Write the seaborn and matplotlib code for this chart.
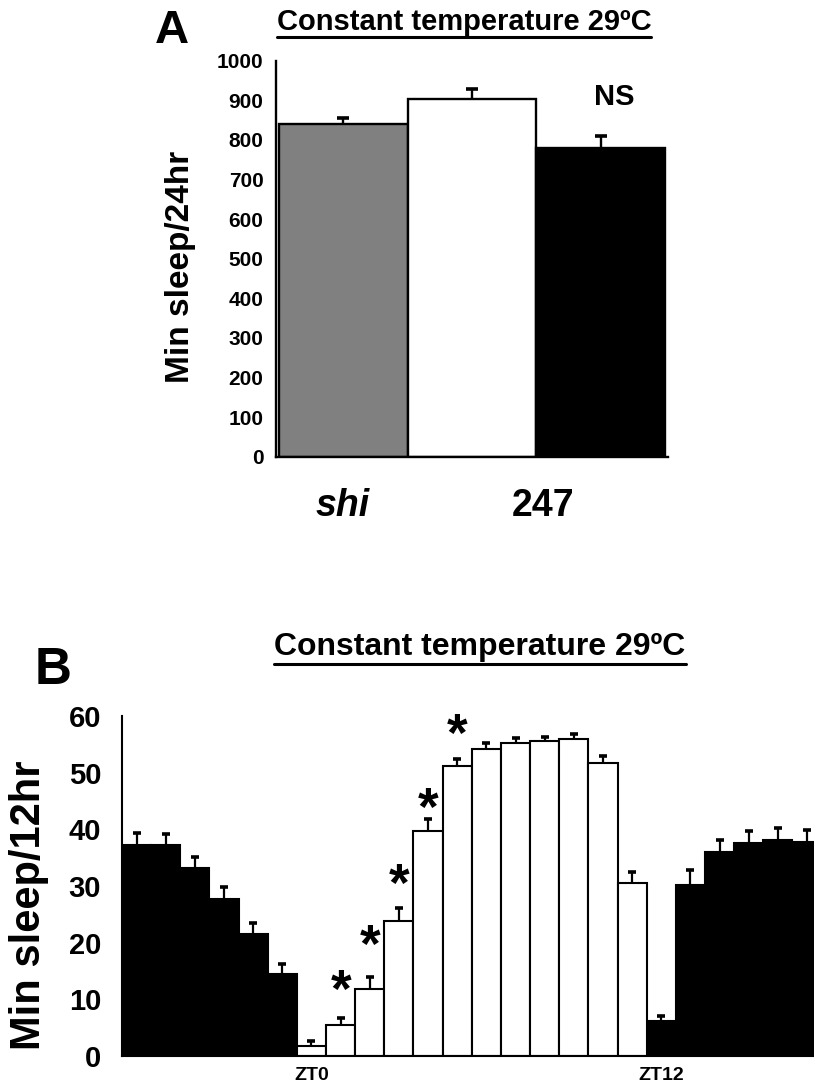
import matplotlib
matplotlib.use("Agg")
import matplotlib.pyplot as plt
import seaborn as sns
import numpy as np
import pandas as pd
from matplotlib.lines import Line2D

# ---------------- Panel A data ----------------
genotypes = ["shi/+", "247/+", "247>shi"]
sleep_24h = [839, 903, 779]
sleep_24h_sem = [17, 25, 32]
colors_a = ["#808080", "#ffffff", "#000000"]
group_labels = ["shi", "247"]
group_label_pos = [0.0, 1.55]
a_yticks = [0, 100, 200, 300, 400, 500, 600, 700, 800, 900, 1000]
ns_label = "NS"

# ---------------- Panel B data ----------------
hours = list(range(24))
phase = ["dark"] * 6 + ["light"] * 12 + ["dark"] * 6
sleep_hourly = [37.2, 37.2, 33.1, 27.7, 21.5, 14.5,
                1.8, 5.4, 11.9, 23.9, 39.7, 51.1,
                54.2, 55.3, 55.6, 55.9, 51.7, 30.5,
                6.1, 30.1, 36.0, 37.6, 38.1, 37.8]
sleep_hourly_sem = [2.2, 2.0, 2.1, 2.1, 1.9, 1.7,
                    0.8, 1.3, 2.0, 2.3, 2.1, 1.3,
                    1.1, 0.8, 0.7, 0.9, 1.2, 2.0,
                    1.0, 2.7, 2.2, 2.1, 2.2, 2.1]
star_hours = [7, 8, 9, 10, 11]
star_y = [12.8, 20.8, 31.6, 44.9, 58.1]
b_yticks = [0, 10, 20, 30, 40, 50, 60]
zt_ticks = [6, 18]
zt_labels = ["ZT0", "ZT12"]
phase_colors = {"dark": "#000000", "light": "#ffffff"}

title_text = "Constant temperature 29ºC"

sns.set_style("white")
plt.rcParams["font.family"] = ["Liberation Sans", "DejaVu Sans"]
plt.rcParams["font.weight"] = "bold"
for k in ["text.color", "axes.labelcolor", "xtick.color", "ytick.color", "axes.edgecolor"]:
    plt.rcParams[k] = "black"

W, H = 814, 1089
fig = plt.figure(figsize=(W / 100, H / 100), dpi=100)


def fx(px):
    return px / W


def fy(py):
    return 1 - py / H


def upper_errorbars(ax, means, sems, lw, cap_ms, cap_mew):
    x = np.arange(len(means))
    top = np.asarray(means) + np.asarray(sems)
    ax.vlines(x, means, top, colors="black", linewidth=lw, zorder=5)
    ax.plot(x, top, ls="none", marker="_", markersize=cap_ms,
            markeredgewidth=cap_mew, color="black", zorder=5)


# ---------------- Panel A ----------------
axA = fig.add_axes([fx(276), fy(456.7), fx(668) - fx(276), fy(60.7) - fy(456.7)])
dfA = pd.DataFrame({"genotype": genotypes, "sleep": sleep_24h})
sns.barplot(data=dfA, x="genotype", y="sleep", hue="genotype",
            palette=dict(zip(genotypes, colors_a)), width=1.0,
            edgecolor="black", linewidth=1.7, errorbar=None,
            legend=False, ax=axA)
upper_errorbars(axA, sleep_24h, sleep_24h_sem, lw=1.7, cap_ms=9, cap_mew=2.6)
axA.set_ylim(0, 1000)
axA.set_xlim(-0.52, 2.52)
axA.set_yticks(a_yticks)
axA.set_yticklabels([str(v) for v in a_yticks], fontsize=15, fontweight="bold")
axA.set_xticks([])
axA.set_xlabel("")
axA.set_ylabel("")
for s in ["top", "right"]:
    axA.spines[s].set_visible(False)
for s in ["left", "bottom"]:
    axA.spines[s].set_linewidth(1.7)
    axA.spines[s].set_color("black")
axA.tick_params(axis="y", direction="out", length=5, width=1.7, pad=4, colors="black")
axA.text(2.1, 908, ns_label, ha="center", va="center", fontsize=21, fontweight="bold")
axA.text(group_label_pos[0], -125, group_labels[0], ha="center", va="center",
         fontsize=27, fontweight="bold", style="italic")
axA.text(group_label_pos[1], -125, group_labels[1], ha="center", va="center",
         fontsize=27, fontweight="bold")

fig.text(fx(180), fy(267), "Min sleep/24hr", rotation=90, ha="center", va="center",
         fontsize=24, fontweight="bold")
fig.text(fx(172), fy(31), "A", ha="center", va="center", fontsize=34, fontweight="bold")
tA = fig.text(fx(464), fy(30), title_text, ha="center", va="baseline",
              fontsize=21, fontweight="bold")

# ---------------- Panel B ----------------
axB = fig.add_axes([fx(122), fy(1056), 1 - fx(122), fy(716) - fy(1056)])
dfB = pd.DataFrame({"hour": hours, "sleep": sleep_hourly, "phase": phase})
sns.barplot(data=dfB, x="hour", y="sleep", hue="phase", palette=phase_colors,
            dodge=False, width=1.0, edgecolor="black", linewidth=1.5,
            errorbar=None, legend=False, ax=axB)
upper_errorbars(axB, sleep_hourly, sleep_hourly_sem, lw=1.6, cap_ms=6, cap_mew=2.6)
axB.set_ylim(0, 60)
axB.set_xlim(-0.5, 23.24)
axB.set_yticks(b_yticks)
axB.set_yticklabels([str(v) for v in b_yticks], fontsize=21, fontweight="bold")
axB.set_xticks(zt_ticks)
axB.set_xticklabels(zt_labels, fontsize=14, fontweight="bold")
axB.set_xlabel("")
axB.set_ylabel("")
for s in ["top", "right"]:
    axB.spines[s].set_visible(False)
for s in ["left", "bottom"]:
    axB.spines[s].set_linewidth(1.5)
    axB.spines[s].set_color("black")
axB.tick_params(axis="y", direction="out", length=5, width=1.5, pad=10, colors="black")
axB.tick_params(axis="x", length=0, pad=8, colors="black")
for xh, yv in zip(star_hours, star_y):
    axB.annotate("*", (xh, yv), xytext=(0, -7), textcoords="offset points",
                 ha="center", va="center", fontsize=38, fontweight="bold")

fig.text(fx(29), fy(905), "Min sleep/12hr", rotation=90, ha="center", va="center",
         fontsize=30, fontweight="bold")
fig.text(fx(53), fy(670), "B", ha="center", va="center", fontsize=37, fontweight="bold")
tB = fig.text(fx(480), fy(655), title_text, ha="center", va="baseline",
              fontsize=23, fontweight="bold")

# underline titles
fig.canvas.draw()
renderer = fig.canvas.get_renderer()
for t, uy in [(tA, 36.5), (tB, 663.5)]:
    bb = t.get_window_extent(renderer)
    fig.add_artist(Line2D([bb.x0 / W, bb.x1 / W], [fy(uy), fy(uy)],
                          transform=fig.transFigure, color="black", linewidth=2.2))

fig.savefig("out.png", dpi=100)
